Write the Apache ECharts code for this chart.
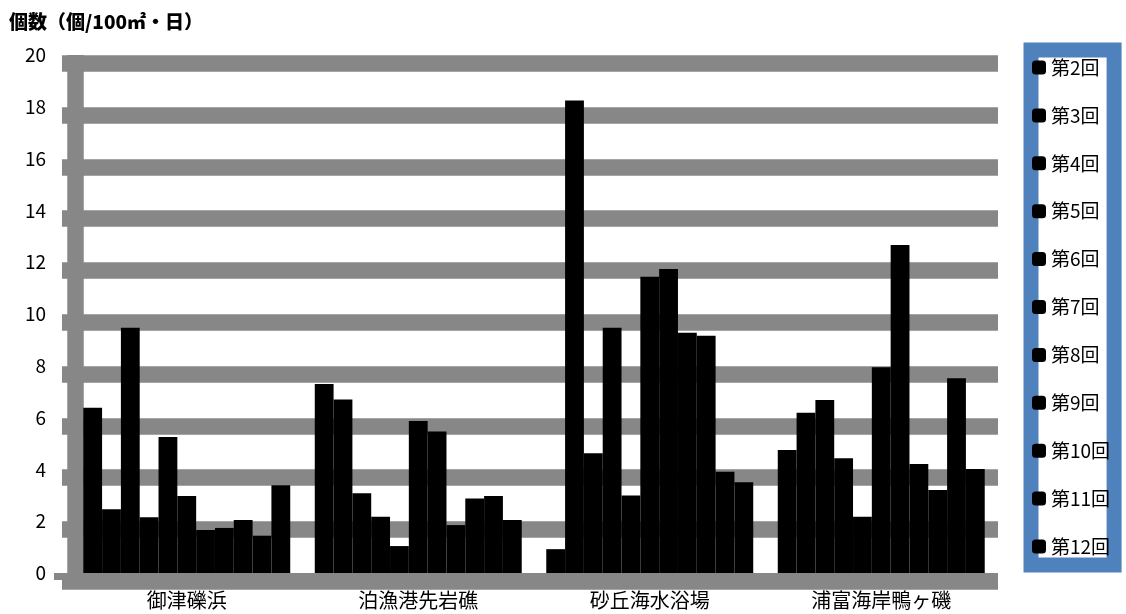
<!DOCTYPE html>
<html>
<head>
<meta charset="utf-8">
<script src="https://cdn.jsdelivr.net/npm/echarts@6/dist/echarts.min.js"></script>
<style>html,body{margin:0;padding:0;background:#fff;}#c{width:1126px;height:614px;}</style>
</head>
<body>
<div id="c"></div>
<script>
const categories = ['御津礫浜', '泊漁港先岩礁', '砂丘海水浴場', '浦富海岸鴨ヶ磯'];
const seriesNames = ['第2回','第3回','第4回','第5回','第6回','第7回','第8回','第9回','第10回','第11回','第12回'];
// values per site, in series order 第2回..第12回
const site1 = [6.38, 2.46, 9.47, 2.15, 5.25, 2.97, 1.66, 1.74, 2.05, 1.44, 3.39];
const site2 = [7.30, 6.70, 3.08, 2.17, 1.04, 5.87, 5.46, 1.85, 2.88, 2.97, 2.05];
const site3 = [0.92, 18.24, 4.62, 9.47, 2.99, 11.44, 11.74, 9.28, 9.16, 3.91, 3.50];
const site4 = [4.75, 6.19, 6.68, 4.43, 2.17, 7.94, 12.66, 4.21, 3.20, 7.52, 4.02];
const yTicks = [0, 2, 4, 6, 8, 10, 12, 14, 16, 18, 20];

const sites = [site1, site2, site3, site4];
const FONT = "'Noto Sans CJK JP', 'Noto Sans', sans-serif";
const GRAY = '#878787';

const series = seriesNames.map((name, i) => ({
  name: name,
  type: 'bar',
  xAxisIndex: 0,
  yAxisIndex: 0,
  barGap: '0%',
  barCategoryGap: '10.6%',
  itemStyle: { color: '#000' },
  data: sites.map(s => s[i])
}));

const chart = echarts.init(document.getElementById('c'), null, { renderer: 'canvas' });
chart.setOption({
  animation: false,
  backgroundColor: '#fff',
  title: {
    text: '個数（個/100㎡・日）',
    left: 9, top: 12, padding: 0,
    textStyle: { fontFamily: FONT, fontSize: 19, fontWeight: 900, color: '#000' }
  },
  legend: {
    orient: 'vertical',
    left: 1031, top: 50,
    height: 540,
    padding: [8, 4, 9, 1],
    itemWidth: 14, itemHeight: 14, itemGap: 28.9,
    icon: 'roundRect',
    borderColor: '#4f81bd', borderWidth: 15,
    backgroundColor: '#fff',
    data: seriesNames,
    textStyle: { fontFamily: FONT, fontSize: 19, color: '#000', lineHeight: 19 }
  },
  grid: [
    { left: 71, right: 129, top: 55, bottom: 41 },
    { left: 62, right: 128, top: 63.25, bottom: 32.75 },
    { left: 75, right: 129, top: 55, bottom: 25 },
    { left: 54, right: 128, top: 55, bottom: 37.5 }
  ],
  xAxis: [
    { type: 'category', gridIndex: 0, data: categories,
      axisLine: { show: false }, axisTick: { show: false },
      axisLabel: { fontFamily: FONT, fontSize: 20, color: '#000', margin: 17 } },
    { type: 'value', gridIndex: 1, show: false },
    { type: 'value', gridIndex: 2, show: false },
    { type: 'value', gridIndex: 3, min: 0, max: 1,
      axisLine: { show: true, lineStyle: { color: GRAY, width: 7, cap: 'butt' } },
      axisTick: { show: false }, axisLabel: { show: false }, splitLine: { show: false } }
  ],
  yAxis: [
    { type: 'value', gridIndex: 0, min: 0, max: 20, interval: 2,
      axisLine: { show: false }, axisTick: { show: false }, splitLine: { show: false },
      axisLabel: { fontFamily: FONT, fontSize: 19, color: '#000', margin: 25,
        formatter: v => (yTicks.indexOf(v) >= 0 ? String(v) : '') } },
    { type: 'value', gridIndex: 1, min: 0, max: 20, interval: 2,
      axisLine: { show: false }, axisTick: { show: false }, axisLabel: { show: false },
      splitLine: { show: true, lineStyle: { color: GRAY, width: 16.5, cap: 'butt' } } },
    { type: 'value', gridIndex: 2, min: 0, max: 1,
      axisLine: { show: true, lineStyle: { color: GRAY, width: 16.5, cap: 'butt' } },
      axisTick: { show: false }, axisLabel: { show: false }, splitLine: { show: false } },
    { type: 'value', gridIndex: 3, show: false, min: 0, max: 1 }
  ],
  series: series
});
</script>
</body>
</html>
